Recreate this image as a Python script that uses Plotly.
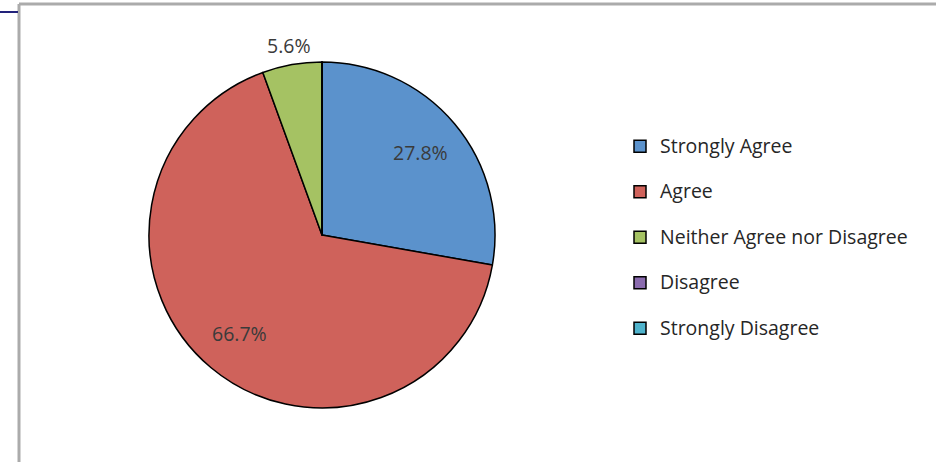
import math
import plotly.graph_objects as go

categories = ["Strongly Agree", "Agree", "Neither Agree nor Disagree", "Disagree", "Strongly Disagree"]
counts = [5, 12, 1, 0, 0]
colors = ["#5B92CC", "#CF625B", "#A5C263", "#8A6BAE", "#4FB3CC"]
label_radius = [0.74, 0.74, 1.115, 0.74, 0.74]   # relative position of % labels

W, H = 936, 462
FONT = "Open Sans"
CX, CY, R = 322, 235, 173   # pie centre / radius in pixels

fig = go.Figure(go.Pie(
    labels=[f"<span style='font-size:19.5px'>{c}</span><br> " for c in categories],
    values=counts,
    sort=False,
    direction="clockwise",
    rotation=0,
    marker=dict(colors=colors, line=dict(color="#000000", width=1.5)),
    textinfo="none",
    hoverinfo="percent",
    domain=dict(x=[(CX - R) / W, (CX + R) / W], y=[(H - CY - R) / H, (H - CY + R) / H]),
    showlegend=True,
))

# percentage labels placed at the middle angle of each slice
total = sum(counts)
cum = 0
annotations = []
for v, rf in zip(counts, label_radius):
    if v > 0:
        mid = (cum + v / 2) / total * 2 * math.pi
        px = CX + rf * R * math.sin(mid)
        py = CY - rf * R * math.cos(mid)
        annotations.append(dict(x=px / W, y=1 - py / H, xref="paper", yref="paper",
                                text=f"{v / total * 100:.1f}%", showarrow=False,
                                font=dict(family=FONT, size=19.5, color="#3A3A3A"),
                                xanchor="center", yanchor="middle"))
    cum += v

fig.update_layout(
    width=W, height=H,
    margin=dict(l=0, r=0, t=0, b=0),
    paper_bgcolor="white",
    plot_bgcolor="white",
    font=dict(family=FONT, size=16.35, color="#404040"),
    annotations=annotations,
    legend=dict(x=620 / W, y=1 - 129 / H, xanchor="left", yanchor="top",
                valign="top", font=dict(family=FONT, size=16.35, color="#262626"),
                bgcolor="rgba(0,0,0,0)"),
    shapes=[
        dict(type="line", xref="paper", yref="paper", x0=19 / W, x1=19 / W, y0=0, y1=1 - 4 / H,
             line=dict(color="#ABABAB", width=3)),
        dict(type="line", xref="paper", yref="paper", x0=19 / W, x1=1, y0=1 - 4 / H, y1=1 - 4 / H,
             line=dict(color="#ABABAB", width=3)),
        dict(type="line", xref="paper", yref="paper", x0=0, x1=18 / W, y0=1 - 12 / H, y1=1 - 12 / H,
             line=dict(color="#22227A", width=2)),
    ],
)

fig.write_html("out.html")
